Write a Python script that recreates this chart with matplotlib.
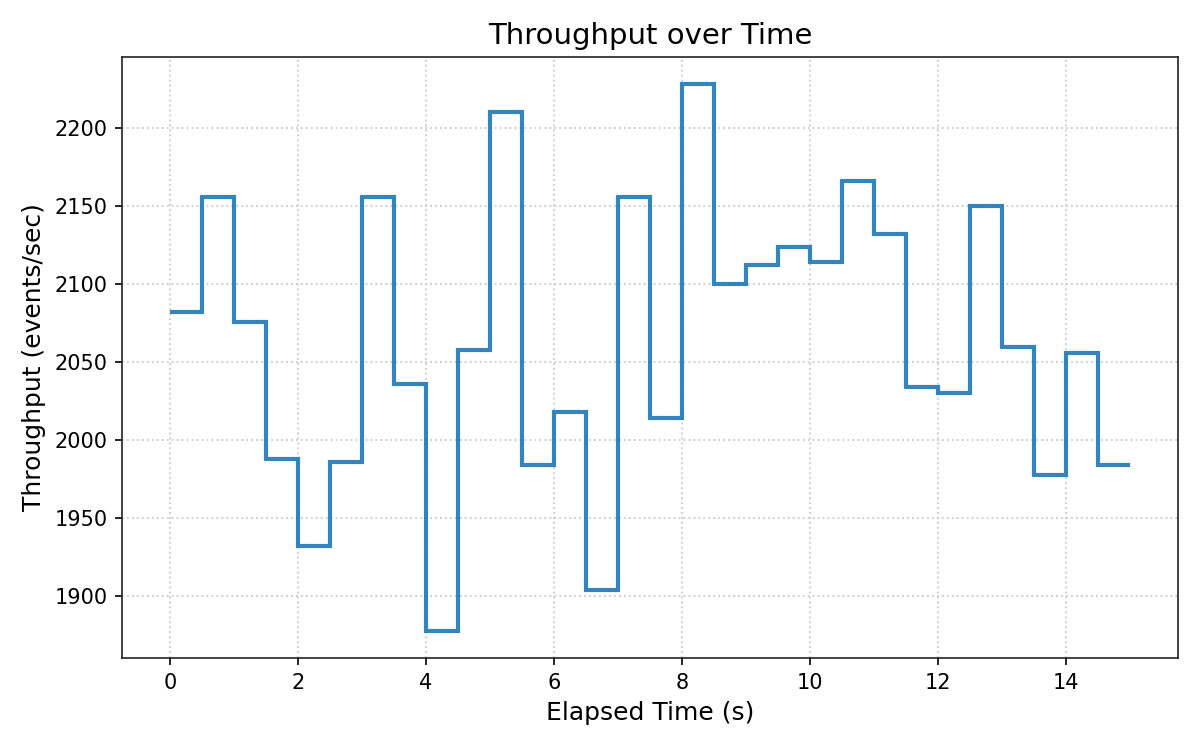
import matplotlib
matplotlib.use("Agg")
import matplotlib.pyplot as plt
import numpy as np

# Time bin edges (s) and throughput per bin (events/sec)
edges = [0.0, 0.5, 1.0, 1.5, 2.0, 2.5, 3.0, 3.5, 4.0, 4.5, 5.0, 5.5, 6.0, 6.5,
         7.0, 7.5, 8.0, 8.5, 9.0, 9.5, 10.0, 10.5, 11.0, 11.5, 12.0, 12.5,
         13.0, 13.5, 14.0, 14.5, 15.0]
throughput = [2082, 2156, 2076, 1988, 1932, 1986, 2156, 2036, 1878, 2058,
              2210, 1984, 2018, 1904, 2156, 2014, 2228, 2100, 2112, 2124,
              2114, 2166, 2132, 2034, 2030, 2150, 2060, 1978, 2056, 1984]

fig, ax = plt.subplots(figsize=(8, 5), dpi=150)
fig.subplots_adjust(left=0.1017, right=0.9817, top=0.924, bottom=0.1227)

ax.stairs(throughput, edges, baseline=None, color="#1f77b4", alpha=0.9,
          linewidth=2)

ax.set_title("Throughput over Time", fontsize=14)
ax.set_xlabel("Elapsed Time (s)", fontsize=12)
ax.set_ylabel("Throughput (events/sec)", fontsize=12)
ax.tick_params(labelsize=10)
ax.grid(True, linestyle=":", color="#cccccc", linewidth=0.9)
ax.set_axisbelow(True)
ax.margins(x=0.05, y=0.05)
for s in ax.spines.values():
    s.set_color("#222222")

fig.savefig("out.png", dpi=150)
